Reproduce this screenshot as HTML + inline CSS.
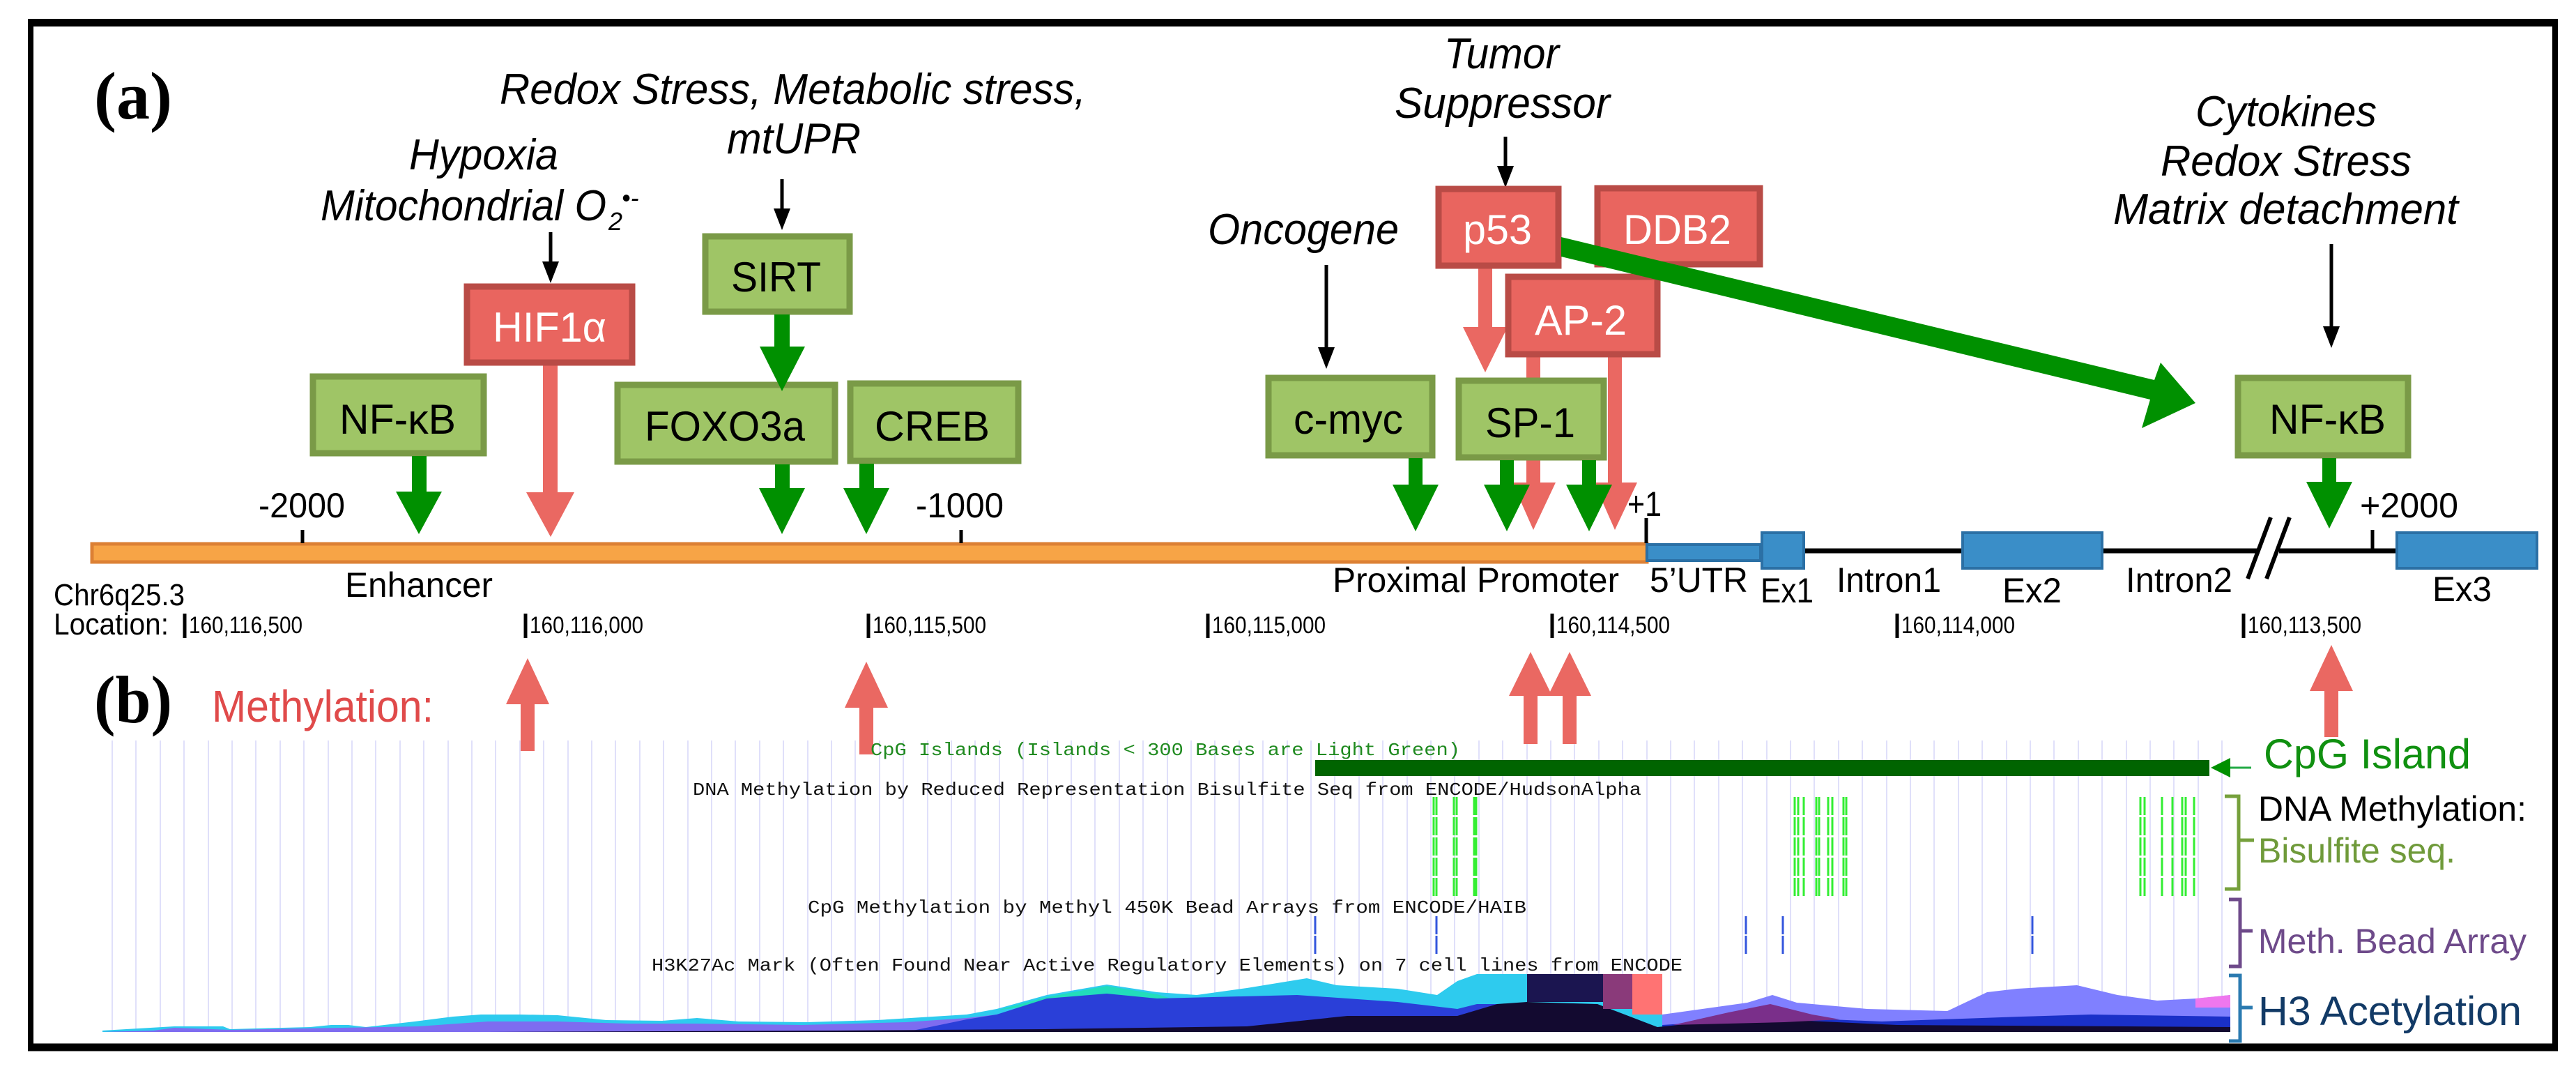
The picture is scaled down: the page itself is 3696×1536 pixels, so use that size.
<!DOCTYPE html>
<html><head><meta charset="utf-8"><style>
html,body{margin:0;padding:0;background:#fff}
svg{display:block}
text{font-family:"Liberation Sans",sans-serif}
.it{font-style:italic;font-size:62px;fill:#000}
.bx{font-size:60px}
.mono{font-family:"Liberation Mono",monospace;font-size:26px;fill:#111}
</style></head><body>
<svg width="3696" height="1536" viewBox="0 0 3696 1536" xmlns="http://www.w3.org/2000/svg">
<rect x="0" y="0" width="3696" height="1536" fill="#fff"/>
<rect x="44" y="34" width="3622" height="1467" fill="none" stroke="#000" stroke-width="8"/>
<line x1="40" y1="32" x2="3670" y2="32" stroke="#000" stroke-width="10"/>
<line x1="40" y1="1502" x2="3670" y2="1502" stroke="#000" stroke-width="11"/>

<text x="135" y="170" font-weight="bold" font-size="96" textLength="112" lengthAdjust="spacingAndGlyphs" style="font-family:'Liberation Serif',serif">(a)</text>
<text x="135" y="1036" font-weight="bold" font-size="96" textLength="112" lengthAdjust="spacingAndGlyphs" style="font-family:'Liberation Serif',serif">(b)</text>

<text class="it" x="717" y="149" textLength="841" lengthAdjust="spacingAndGlyphs">Redox Stress, Metabolic stress,</text>
<text class="it" x="1043" y="220" textLength="192" lengthAdjust="spacingAndGlyphs">mtUPR</text>
<text class="it" x="587" y="243" textLength="214" lengthAdjust="spacingAndGlyphs">Hypoxia</text>
<text class="it" x="460" y="316" textLength="410" lengthAdjust="spacingAndGlyphs">Mitochondrial O</text>
<text class="it" x="873" y="330" font-size="36" style="font-size:36px">2</text>
<text class="it" x="892" y="296" font-size="36" style="font-size:36px">•-</text>
<text class="it" x="1733" y="350" textLength="274" lengthAdjust="spacingAndGlyphs">Oncogene</text>
<text class="it" x="2072" y="98" textLength="165" lengthAdjust="spacingAndGlyphs">Tumor</text>
<text class="it" x="2001" y="169" textLength="309" lengthAdjust="spacingAndGlyphs">Suppressor</text>
<text class="it" x="3150" y="181" textLength="260" lengthAdjust="spacingAndGlyphs">Cytokines</text>
<text class="it" x="3100" y="252" textLength="360" lengthAdjust="spacingAndGlyphs">Redox Stress</text>
<text class="it" x="3032" y="321" textLength="495" lengthAdjust="spacingAndGlyphs">Matrix detachment</text>

<g stroke="#000" stroke-width="5" fill="#000">
<line x1="790" y1="333" x2="790" y2="380"/><polygon points="778,375 802,375 790,406" stroke="none"/>
<line x1="1122" y1="257" x2="1122" y2="304"/><polygon points="1110,299 1134,299 1122,330" stroke="none"/>
<line x1="1903" y1="380" x2="1903" y2="503"/><polygon points="1891,498 1915,498 1903,529" stroke="none"/>
<line x1="2160" y1="196" x2="2160" y2="243"/><polygon points="2148,238 2172,238 2160,269" stroke="none"/>
<line x1="3345" y1="350" x2="3345" y2="473"/><polygon points="3333,468 3357,468 3345,499" stroke="none"/>
</g>

<rect x="132" y="780" width="2231" height="26" fill="#f7a446" stroke="#dc8034" stroke-width="5"/>
<line x1="2526" y1="790" x2="3437" y2="790" stroke="#000" stroke-width="7"/>
<rect x="2363" y="781" width="163" height="23" fill="#3a8ec8" stroke="#2b70a5" stroke-width="4"/>
<rect x="2528" y="764" width="60" height="51" fill="#3a8ec8" stroke="#2b70a5" stroke-width="4"/>
<rect x="2816" y="764" width="200" height="51" fill="#3a8ec8" stroke="#2b70a5" stroke-width="4"/>
<rect x="3439" y="764" width="201" height="51" fill="#3a8ec8" stroke="#2b70a5" stroke-width="4"/>
<rect x="3240" y="780" width="30" height="20" fill="#fff"/>
<line x1="3225" y1="830" x2="3258" y2="742" stroke="#000" stroke-width="6"/>
<line x1="3252" y1="830" x2="3285" y2="742" stroke="#000" stroke-width="6"/>
<g stroke="#000" stroke-width="5">
<line x1="434" y1="760" x2="434" y2="779"/>
<line x1="1379" y1="760" x2="1379" y2="779"/>
<line x1="2362" y1="743" x2="2362" y2="779"/>
<line x1="3404" y1="760" x2="3404" y2="790"/>
</g>
<g font-size="50">
<text x="371" y="742" textLength="124" lengthAdjust="spacingAndGlyphs">-2000</text>
<text x="1314" y="742" textLength="126" lengthAdjust="spacingAndGlyphs">-1000</text>
<text x="2335" y="740" textLength="49" lengthAdjust="spacingAndGlyphs">+1</text>
<text x="3386" y="742" textLength="141" lengthAdjust="spacingAndGlyphs">+2000</text>
<text x="495" y="856" textLength="212" lengthAdjust="spacingAndGlyphs">Enhancer</text>
<text x="1912" y="849" textLength="411" lengthAdjust="spacingAndGlyphs">Proximal Promoter</text>
<text x="2367" y="849" textLength="141" lengthAdjust="spacingAndGlyphs">5’UTR</text>
<text x="2526" y="864" textLength="76" lengthAdjust="spacingAndGlyphs">Ex1</text>
<text x="2635" y="849" textLength="150" lengthAdjust="spacingAndGlyphs">Intron1</text>
<text x="2873" y="864" textLength="85" lengthAdjust="spacingAndGlyphs">Ex2</text>
<text x="3050" y="849" textLength="153" lengthAdjust="spacingAndGlyphs">Intron2</text>
<text x="3490" y="862" textLength="85" lengthAdjust="spacingAndGlyphs">Ex3</text>
</g>
<text x="77" y="868" font-size="44" textLength="188" lengthAdjust="spacingAndGlyphs">Chr6q25.3</text>
<text x="77" y="910" font-size="44" textLength="165" lengthAdjust="spacingAndGlyphs">Location:</text>
<g stroke="#000" stroke-width="5">
<line x1="265" y1="880" x2="265" y2="915"/><line x1="754" y1="880" x2="754" y2="915"/>
<line x1="1246" y1="880" x2="1246" y2="915"/><line x1="1733" y1="880" x2="1733" y2="915"/>
<line x1="2227" y1="880" x2="2227" y2="915"/><line x1="2722" y1="880" x2="2722" y2="915"/>
<line x1="3219" y1="880" x2="3219" y2="915"/>
</g>
<g font-size="34">
<text x="271" y="908" textLength="163" lengthAdjust="spacingAndGlyphs">160,116,500</text>
<text x="760" y="908" textLength="163" lengthAdjust="spacingAndGlyphs">160,116,000</text>
<text x="1252" y="908" textLength="163" lengthAdjust="spacingAndGlyphs">160,115,500</text>
<text x="1739" y="908" textLength="163" lengthAdjust="spacingAndGlyphs">160,115,000</text>
<text x="2233" y="908" textLength="163" lengthAdjust="spacingAndGlyphs">160,114,500</text>
<text x="2728" y="908" textLength="163" lengthAdjust="spacingAndGlyphs">160,114,000</text>
<text x="3225" y="908" textLength="163" lengthAdjust="spacingAndGlyphs">160,113,500</text>
</g>

<g fill="#ea6862">
<rect x="779" y="520" width="21" height="190"/><polygon points="755,706 824,706 790,770"/>
<rect x="2121" y="383" width="20" height="90"/><polygon points="2099,469 2163,469 2131,534"/>
<rect x="2190" y="505" width="20" height="190"/><polygon points="2170,692 2232,692 2200,760"/>
<rect x="2307" y="505" width="20" height="190"/><polygon points="2287,692 2349,692 2317,760"/>
</g>
<g stroke-width="9">
<rect x="670" y="411" width="237" height="109" fill="#e9655f" stroke="#b94b46"/>
<rect x="2064" y="271" width="172" height="110" fill="#e9655f" stroke="#b94b46"/>
<rect x="2292" y="270" width="233" height="109" fill="#e9655f" stroke="#b94b46"/>
<rect x="2164" y="397" width="214" height="111" fill="#e9655f" stroke="#b94b46"/>
<rect x="1012" y="339" width="207" height="108" fill="#9fc566" stroke="#7a9a47"/>
<rect x="449" y="540" width="245" height="110" fill="#9fc566" stroke="#7a9a47"/>
<rect x="886" y="552" width="312" height="110" fill="#9fc566" stroke="#7a9a47"/>
<rect x="1220" y="550" width="241" height="111" fill="#9fc566" stroke="#7a9a47"/>
<rect x="1820" y="542" width="235" height="111" fill="#9fc566" stroke="#7a9a47"/>
<rect x="2093" y="546" width="208" height="110" fill="#9fc566" stroke="#7a9a47"/>
<rect x="3211" y="542" width="244" height="111" fill="#9fc566" stroke="#7a9a47"/>
</g>
<g class="bx">
<text x="707" y="490" fill="#fff" textLength="163" lengthAdjust="spacingAndGlyphs">HIF1α</text>
<text x="2099" y="350" fill="#fff" textLength="99" lengthAdjust="spacingAndGlyphs">p53</text>
<text x="2329" y="350" fill="#fff" textLength="155" lengthAdjust="spacingAndGlyphs">DDB2</text>
<text x="2202" y="480" fill="#fff" textLength="132" lengthAdjust="spacingAndGlyphs">AP-2</text>
<text x="1049" y="418" textLength="129" lengthAdjust="spacingAndGlyphs">SIRT</text>
<text x="487" y="622" textLength="167" lengthAdjust="spacingAndGlyphs">NF-κB</text>
<text x="925" y="632" textLength="230" lengthAdjust="spacingAndGlyphs">FOXO3a</text>
<text x="1255" y="632" textLength="165" lengthAdjust="spacingAndGlyphs">CREB</text>
<text x="1856" y="622" textLength="157" lengthAdjust="spacingAndGlyphs">c-myc</text>
<text x="2131" y="627" textLength="129" lengthAdjust="spacingAndGlyphs">SP-1</text>
<text x="3256" y="622" textLength="167" lengthAdjust="spacingAndGlyphs">NF-κB</text>
</g>
<g fill="#009000">
<rect x="1111" y="451" width="22" height="50"/><polygon points="1090,497 1155,497 1122,561"/>
<rect x="591" y="654" width="21" height="55"/><polygon points="568,705 634,705 601,766"/>
<rect x="1112" y="666" width="21" height="40"/><polygon points="1089,700 1155,700 1122,766"/>
<rect x="1233" y="665" width="21" height="40"/><polygon points="1210,700 1276,700 1243,766"/>
<rect x="2021" y="657" width="20" height="42"/><polygon points="1998,695 2064,695 2031,762"/>
<rect x="2152" y="660" width="20" height="39"/><polygon points="2129,695 2195,695 2162,762"/>
<rect x="2270" y="660" width="20" height="39"/><polygon points="2247,695 2313,695 2280,762"/>
<rect x="3332" y="657" width="20" height="42"/><polygon points="3309,691 3375,691 3342,758"/>
<polygon points="2240,340 2240,368 3085,573 3073,614 3150,578 3100,520 3091,545"/>
</g>

<text x="304" y="1035" font-size="64" fill="#e04a4a" textLength="318" lengthAdjust="spacingAndGlyphs">Methylation:</text>
<g stroke="#e0e0fa" stroke-width="2">
<path d="M161 1062V1480M195 1062V1480M230 1062V1480M264 1062V1480M299 1062V1480M333 1062V1480M367 1062V1480M402 1062V1480M436 1062V1480M471 1062V1480M505 1062V1480M539 1062V1480M574 1062V1480M608 1062V1480M643 1062V1480M677 1062V1480M711 1062V1480M746 1062V1480M780 1062V1480M815 1062V1480M849 1062V1480M883 1062V1480M918 1062V1480M952 1062V1480M987 1062V1480M1021 1062V1480M1055 1062V1480M1090 1062V1480M1124 1062V1480M1159 1062V1480M1193 1062V1480M1227 1062V1480M1262 1062V1480M1296 1062V1480M1331 1062V1480M1365 1062V1480M1399 1062V1480M1434 1062V1480M1468 1062V1480M1503 1062V1480M1537 1062V1480M1571 1062V1480M1606 1062V1480M1640 1062V1480M1675 1062V1480M1709 1062V1480M1743 1062V1480M1778 1062V1480M1812 1062V1480M1847 1062V1480M1881 1062V1480M1915 1062V1480M1950 1062V1480M1984 1062V1480M2019 1062V1480M2053 1062V1480M2087 1062V1480M2122 1062V1480M2156 1062V1480M2191 1062V1480M2225 1062V1480M2259 1062V1480M2294 1062V1480M2328 1062V1480M2363 1062V1480M2397 1062V1480M2431 1062V1480M2466 1062V1480M2500 1062V1480M2535 1062V1480M2569 1062V1480M2603 1062V1480M2638 1062V1480M2672 1062V1480M2707 1062V1480M2741 1062V1480M2775 1062V1480M2810 1062V1480M2844 1062V1480M2879 1062V1480M2913 1062V1480M2947 1062V1480M2982 1062V1480M3016 1062V1480M3051 1062V1480M3085 1062V1480M3119 1062V1480M3154 1062V1480M3188 1062V1480"/>
</g>
<g fill="#ea6862">
<polygon points="757,944 726,1010 788,1010"/><rect x="747" y="1006" width="20" height="71"/>
<polygon points="1243,949 1212,1015 1274,1015"/><rect x="1233" y="1011" width="20" height="71"/>
<polygon points="2196,935 2165,998 2227,998"/><rect x="2186" y="994" width="20" height="73"/>
<polygon points="2252,935 2221,998 2283,998"/><rect x="2242" y="994" width="20" height="73"/>
<polygon points="3345,925 3314,991 3376,991"/><rect x="3335" y="987" width="20" height="70"/>
</g>
<text class="mono" x="1249" y="1083" style="fill:#1f8a1f" textLength="846" lengthAdjust="spacingAndGlyphs">CpG Islands (Islands &lt; 300 Bases are Light Green)</text>
<rect x="1887" y="1090" width="1283" height="23" fill="#006400"/>
<line x1="3195" y1="1101" x2="3230" y2="1101" stroke="#22aa44" stroke-width="3"/>
<polygon points="3172,1101 3200,1087 3200,1115" fill="#009000"/>
<text x="3248" y="1102" font-size="60" fill="#109010" textLength="297" lengthAdjust="spacingAndGlyphs">CpG Island</text>
<text class="mono" x="994" y="1140" textLength="1361" lengthAdjust="spacingAndGlyphs">DNA Methylation by Reduced Representation Bisulfite Seq from ENCODE/HudsonAlpha</text>
<g stroke="#33ee33" stroke-width="3" stroke-dasharray="26 3">
<path d="M2057 1143V1285M2061 1143V1285M2086 1143V1285M2090 1143V1285M2115 1143V1285M2118 1143V1285M2575 1143V1285M2580 1143V1285M2588 1143V1285M2606 1143V1285M2610 1143V1285M2623 1143V1285M2629 1143V1285M2645 1143V1285M2649 1143V1285M3071 1143V1285M3077 1143V1285M3102 1143V1285M3117 1143V1285M3131 1143V1285M3136 1143V1285M3148 1143V1285"/>
</g>
<text class="mono" x="1159" y="1309" textLength="1031" lengthAdjust="spacingAndGlyphs">CpG Methylation by Methyl 450K  Bead Arrays from ENCODE/HAIB</text>
<g stroke="#3355dd" stroke-width="3" stroke-dasharray="26 2">
<path d="M1887 1314V1368M2061 1314V1368M2505 1314V1368M2558 1314V1368M2916 1314V1368"/>
</g>
<text class="mono" x="935" y="1392" textLength="1479" lengthAdjust="spacingAndGlyphs">H3K27Ac Mark (Often Found Near Active Regulatory Elements) on 7 cell lines from ENCODE</text>

<polygon fill="#2ecbee" points="147,1478 250,1472 320,1472 330,1476 445,1473 475,1470 500,1470 525,1473 595,1465 650,1458 690,1455 745,1455 800,1456 870,1463 950,1464 1000,1460 1060,1465 1158,1466 1258,1463 1387,1455 1430,1447 1502,1427 1588,1412 1660,1423 1717,1427 1789,1417 1875,1403 1918,1413 2005,1418 2062,1427 2091,1407 2119,1397 2385,1397 2385,1480 147,1480"/>
<polygon fill="#22ddbb" points="1430,1449 1502,1430 1588,1414 1660,1426 1700,1438 1600,1430 1500,1440"/>
<polygon fill="#8080ff" points="2385,1455 2507,1438 2543,1427 2578,1438 2679,1447 2794,1450 2851,1423 2894,1418 2980,1413 3038,1427 3095,1435 3152,1432 3200,1427 3200,1480 2385,1480"/>
<polygon fill="#7e6cf0" points="147,1480 220,1478 250,1474 330,1477 600,1472 700,1465 800,1465 900,1468 1000,1468 1150,1470 1300,1466 1387,1460 1430,1455 1502,1480"/>
<polygon fill="#2a3fd8" points="1300,1480 1387,1462 1430,1455 1502,1432 1588,1425 1660,1432 1861,1427 2005,1437 2091,1447 2119,1440 2191,1440 2191,1480"/>
<polygon fill="#1a30c8" points="2385,1470 2507,1462 2578,1460 2700,1465 2900,1458 3000,1455 3200,1458 3200,1480 2385,1480"/>
<polygon fill="#130a30" points="700,1480 1200,1478 1500,1476 1789,1472 1933,1457 2091,1457 2148,1440 2191,1437 2292,1440 2378,1473 2507,1460 2722,1470 3200,1473 3200,1480"/>
<rect x="2191" y="1397" width="110" height="40" fill="#1b1550"/>
<rect x="2300" y="1397" width="42" height="50" fill="#8a3a7a"/>
<rect x="2342" y="1397" width="43" height="58" fill="#ff7373"/>
<polygon fill="#7a2f8a" points="2400,1470 2480,1452 2540,1440 2600,1455 2640,1462 2560,1466"/>
<polygon fill="#ee77ee" points="3150,1432 3200,1427 3200,1445 3150,1445"/>

<path d="M3192 1142H3212V1275H3192M3212 1205H3234" fill="none" stroke="#76a03c" stroke-width="5"/>
<path d="M3198 1290H3214V1386H3198M3214 1335H3232" fill="none" stroke="#6e4a8a" stroke-width="5"/>
<path d="M3198 1399H3214V1493H3198M3214 1445H3232" fill="none" stroke="#2a7ab0" stroke-width="5"/>
<text x="3240" y="1177" font-size="50" textLength="385" lengthAdjust="spacingAndGlyphs">DNA Methylation:</text>
<text x="3240" y="1237" font-size="50" fill="#6f9a3a" textLength="283" lengthAdjust="spacingAndGlyphs">Bisulfite seq.</text>
<text x="3240" y="1367" font-size="50" fill="#6e4a8a" textLength="385" lengthAdjust="spacingAndGlyphs">Meth. Bead Array</text>
<text x="3240" y="1470" font-size="58" fill="#123a66" textLength="378" lengthAdjust="spacingAndGlyphs">H3 Acetylation</text>
</svg>
</body></html>
